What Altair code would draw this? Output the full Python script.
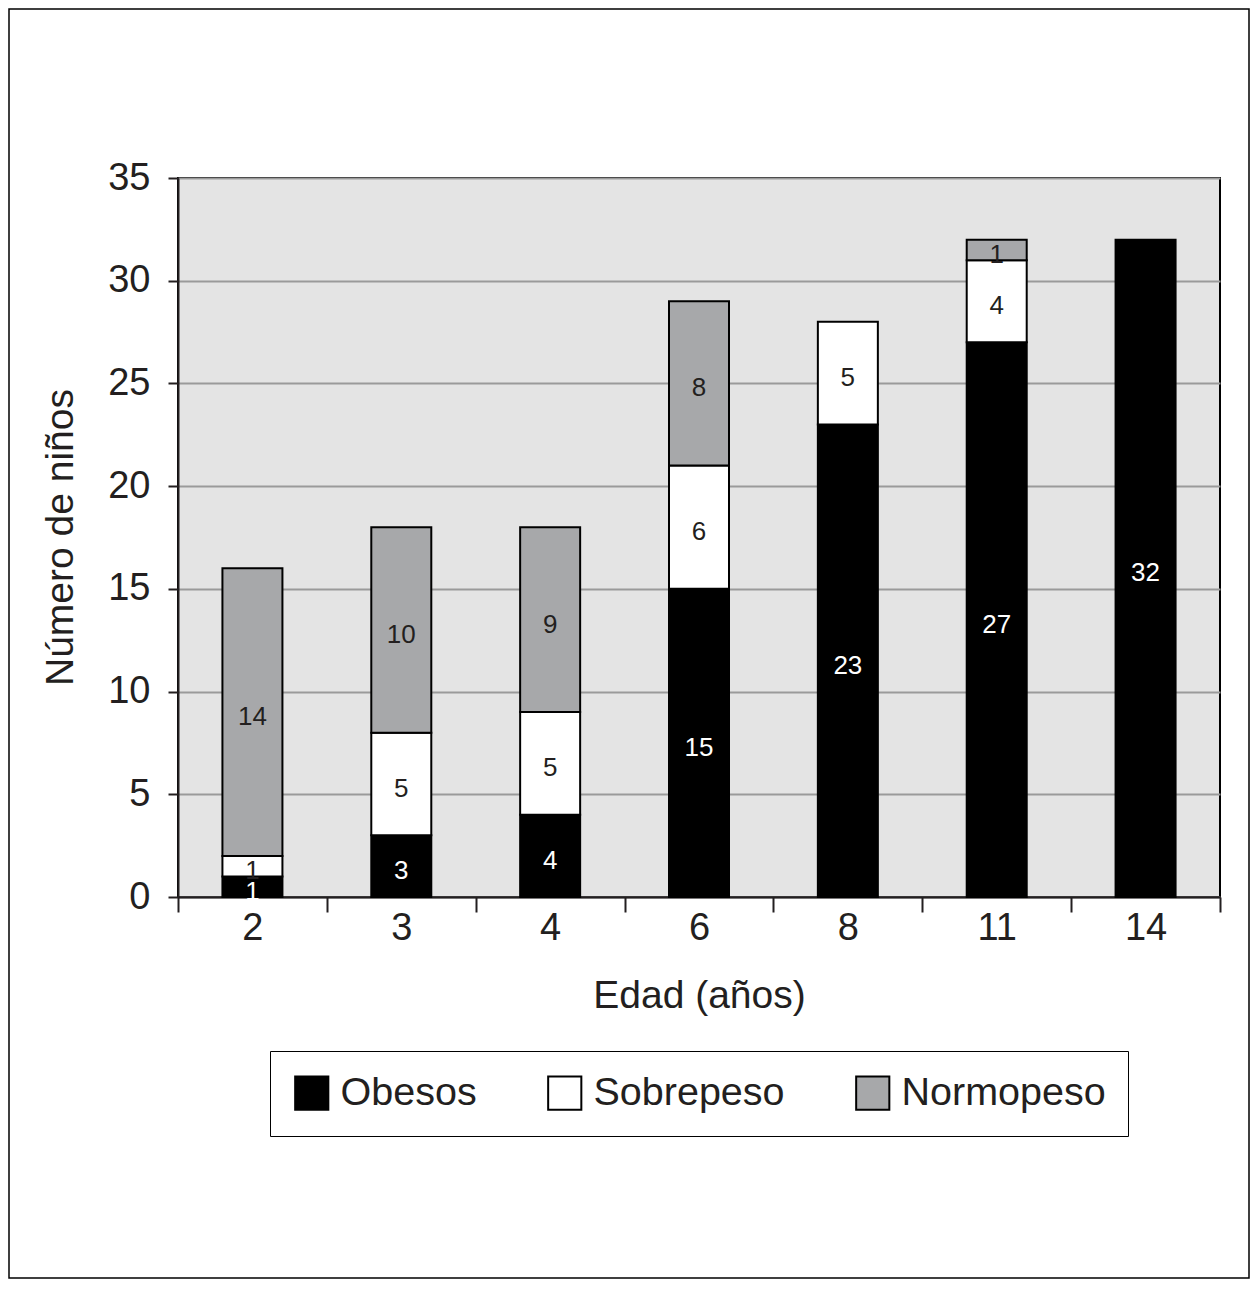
import altair as alt
import pandas as pd

ages = ["2", "3", "4", "6", "8", "11", "14"]
categories = ["Obesos", "Sobrepeso", "Normopeso"]
obesos = [1, 3, 4, 15, 23, 27, 32]
sobrepeso = [1, 5, 5, 6, 5, 4, 0]
normopeso = [14, 10, 9, 8, 0, 1, 0]
colors = ["#000000", "#ffffff", "#a7a8aa"]
text_colors = ["#ffffff", "#231f20", "#231f20"]

rows = []
for i, a in enumerate(ages):
    for k, vals in enumerate([obesos, sobrepeso, normopeso]):
        v = vals[i]
        if v > 0:
            rows.append({"edad": a, "grupo": categories[k], "n": v, "orden": k,
                         "tc": text_colors[k]})
df = pd.DataFrame(rows)

FONT = "Liberation Sans"
INK = "#231f20"

x_enc = alt.X("edad:N", sort=ages,
              scale=alt.Scale(paddingInner=0, paddingOuter=0),
              axis=alt.Axis(title="Edad (años)", labelAngle=0, tickBand="extent",
                            tickSize=15, tickWidth=2, tickColor=INK,
                            domainColor=INK, domainWidth=2,
                            labelFontSize=38, labelPadding=-3, labelColor=INK,
                            labelFont=FONT, titleFont=FONT, titleFontSize=39,
                            titleFontWeight="normal", titleColor=INK,
                            titleY=98, titleBaseline="middle", grid=False))

base = alt.Chart(df)

bars = base.mark_bar(stroke="black", strokeWidth=2, size=60).encode(
    x=x_enc,
    y=alt.Y("n:Q", stack="zero", scale=alt.Scale(domain=[0, 35], nice=False),
            axis=alt.Axis(title="Número de niños", values=list(range(0, 36, 5)),
                          tickSize=10, tickWidth=2, tickColor=INK,
                          domainColor=INK, domainWidth=2,
                          grid=True, gridColor="#9a9a9a", gridWidth=2,
                          labelFontSize=38, labelPadding=18, labelColor=INK,
                          labelFont=FONT, titleFont=FONT, titleFontSize=39,
                          titleFontWeight="normal", titleColor=INK,
                          titleX=-118, titleY=359, titleBaseline="middle")),
    color=alt.Color("grupo:N",
                    scale=alt.Scale(domain=categories, range=colors),
                    legend=alt.Legend(title=None, orient="none", legendX=92, legendY=873,
                                      direction="horizontal", strokeColor="black",
                                      fillColor="white", padding=22,
                                      symbolType="square", symbolSize=1100,
                                      symbolStrokeColor="black", symbolStrokeWidth=2,
                                      symbolFillColor="white",
                                      labelFontSize=39.5, labelFont=FONT, labelColor=INK,
                                      labelOffset=9, columnPadding=67,
                                      labelLimit=400)),
    order=alt.Order("orden:Q"),
)

labels = base.transform_stack(
    stack="n", groupby=["edad"], as_=["y0", "y1"],
    sort=[alt.SortField("orden", order="ascending")],
).transform_calculate(
    mid="(datum.y0 + datum.y1) / 2"
).mark_text(font=FONT, fontSize=26, baseline="middle", dy=5).encode(
    x=alt.X("edad:N", sort=ages),
    y=alt.Y("mid:Q"),
    text=alt.Text("n:Q"),
    color=alt.Color("tc:N", scale=None),
)

frame = alt.Chart(pd.DataFrame({"a": [0]})).mark_rect(
    fill=None, stroke="black", strokeWidth=1.5, clip=False
).encode(
    x=alt.value(-169), x2=alt.value(1071), y=alt.value(-169), y2=alt.value(1100)
)

chart = alt.layer(bars, labels, frame).properties(
    width=1042, height=719,
    autosize=alt.AutoSizeParams(type="none"),
    padding={"left": 170, "top": 170, "right": 30, "bottom": 382},
).configure_view(
    fill="#e4e4e4", stroke="black", strokeWidth=2
)

chart.save("out.html", embed_options={"renderer": "svg", "actions": False})
